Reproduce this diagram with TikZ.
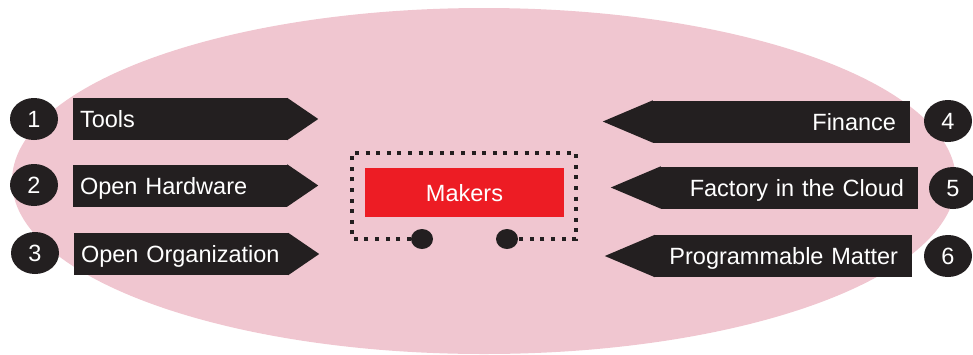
\documentclass[tikz,border=0pt]{standalone}
\usepackage{fontspec}
\setmainfont{Liberation Sans}
\usepackage{tikz}
\usetikzlibrary{positioning, shapes.geometric, calc}
\definecolor{bgpink}{RGB}{240, 198, 208}
\definecolor{boxdark}{RGB}{35, 31, 32}
\definecolor{makerred}{RGB}{237, 28, 36}

\begin{document}
\begin{tikzpicture}[x=1pt, y=-1pt, font=\fontsize{23.5}{28}\selectfont,
    lbox/.style={fill=boxdark, text=white, minimum height=42pt, text width=200pt,
      inner xsep=7pt, inner ysep=0pt, align=left, text height=17pt, text depth=0pt},
    rbox/.style={fill=boxdark, text=white, minimum height=42pt, text width=229pt,
      inner xsep=14pt, inner ysep=0pt, align=right, text height=17pt, text depth=0pt},
    numdot/.style={ellipse, fill=boxdark, text=white, minimum width=48pt, minimum height=42pt,
      inner sep=0pt, text height=17pt, text depth=0pt},
    wheel/.style={ellipse, fill=boxdark, minimum width=22pt, minimum height=20pt, inner sep=0pt},
    dotline/.style={boxdark, line width=4pt, dash pattern=on 4pt off 6.6pt}]
  \useasboundingbox (0,0) rectangle (973,354);
  \fill[bgpink] (484,181) ellipse [x radius=472, y radius=173];
  % left side
  \node[lbox] (tools) at (180,119) {Tools};
  \node[lbox] (hardware) at (180,185.5) {Open Hardware};
  \node[lbox] (org) at (181,254) {Open Organization};
  \foreach \b in {tools, hardware, org}
    \fill[boxdark] (\b.north east) -- ($(\b.east)+(31,0)$) -- (\b.south east) -- cycle;
  \node[numdot] (n1) at (34,119) {1};
  \node[numdot] (n2) at (34,185) {2};
  \node[numdot] (n3) at (35,253) {3};
  % right side
  \node[rbox] (finance) at (781.5,121.5) {Finance};
  \node[rbox] (factory) at (789.5,187.5) {Factory in the Cloud};
  \node[rbox] (matter) at (783.5,256) {Programmable Matter};
  \foreach \b in {finance, factory, matter}
    \fill[boxdark] (\b.north west) -- ($(\b.west)+(-50,0)$) -- (\b.south west) -- cycle;
  \node[numdot] (n4) at (948,121) {4};
  \node[numdot] (n5) at (953,188) {5};
  \node[numdot] (n6) at (948,256) {6};
  % centre
  \node[minimum width=224pt, minimum height=86pt, inner sep=0pt] (frame) at (464,196) {};
  \node[fill=makerred, text=white, minimum width=199pt, minimum height=49pt, inner sep=0pt,
    text height=17pt, text depth=0pt] (makers) at (464.5,192.5) {Makers};
  \node[wheel] (wl) at (422,239) {};
  \node[wheel] (wr) at (507,239) {};
  \draw[dotline] (wl.west) -| (frame.north west) -- (frame.north east) |- (wr.east);
\end{tikzpicture}
\end{document}
